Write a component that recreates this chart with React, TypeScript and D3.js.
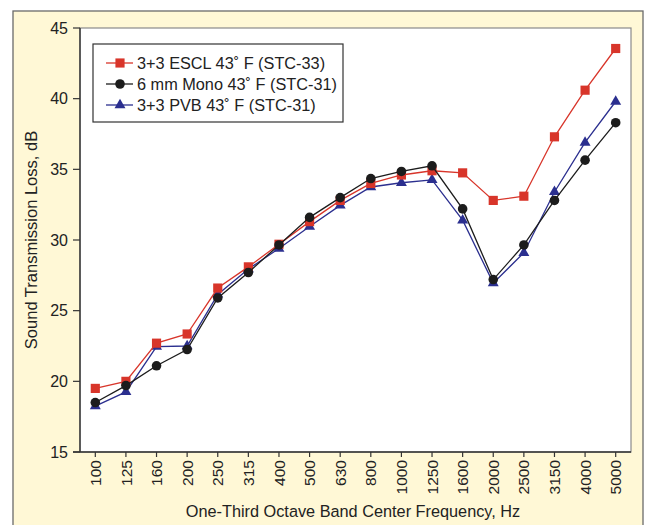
import React from "react";
import * as d3 from "d3";

// one-third octave band centers (Hz)
const freqs = ["100", "125", "160", "200", "250", "315", "400", "500", "630", "800", "1000", "1250", "1600", "2000", "2500", "3150", "4000", "5000"];

// sound transmission loss, dB
const escl = [19.5, 20.0, 22.7, 23.35, 26.6, 28.1, 29.7, 31.3, 32.8, 34.0, 34.6, 34.9, 34.75, 32.8, 33.1, 37.3, 40.6, 43.55];
const mono = [18.5, 19.7, 21.1, 22.25, 25.9, 27.7, 29.65, 31.6, 33.0, 34.35, 34.85, 35.25, 32.2, 27.2, 29.65, 32.8, 35.65, 38.3];
const pvb = [18.25, 19.25, 22.45, 22.5, 26.15, 27.95, 29.4, 30.95, 32.45, 33.75, 34.05, 34.25, 31.4, 26.95, 29.1, 33.4, 36.9, 39.8];

const yTicks = [15, 20, 25, 30, 35, 40, 45];

const series = [
  { name: "3+3 ESCL 43˚ F (STC-33)", values: escl, color: "#d8352a", shape: d3.symbolSquare, size: 84 },
  { name: "6 mm Mono 43˚ F (STC-31)", values: mono, color: "#1c1c1c", shape: d3.symbolCircle, size: 72 },
  { name: "3+3 PVB 43˚ F (STC-31)", values: pvb, color: "#2b2f8f", shape: d3.symbolTriangle, size: 52 },
];

const FONT = "'Liberation Sans', Arial, Helvetica, sans-serif";

export default function App() {
  const width = 646;
  const height = 525;
  const plot = { left: 80, right: 631, top: 28, bottom: 452 };

  const x = d3.scaleBand().domain(freqs).range([plot.left, plot.right]);
  const cx = (f: string) => (x(f) as number) + x.bandwidth() / 2;
  const y = d3.scaleLinear().domain([15, 45]).range([plot.bottom, plot.top]);

  const line = d3
    .line<number>()
    .x((_, i) => cx(freqs[i]))
    .y(d => y(d));

  // draw order: blue under, red, black on top
  const drawOrder = [series[2], series[0], series[1]];

  return (
    <svg width={width} height={height} style={{ position: "absolute", left: 0, top: 0 }} fontFamily={FONT}>
      {/* outer cream panel */}
      <rect x={13} y={11} width={630} height={530} fill="#fff8d6" stroke="#6a6a6a" strokeWidth={1.3} />

      {/* plot area */}
      <rect x={plot.left} y={plot.top} width={plot.right - plot.left} height={plot.bottom - plot.top} fill="#ffffff" stroke="#8a8a8a" strokeWidth={1.2} />
      <line x1={plot.left} x2={plot.left} y1={plot.top} y2={plot.bottom} stroke="#333" strokeWidth={1.4} />
      <line x1={plot.left - 7} x2={plot.right} y1={plot.bottom} y2={plot.bottom} stroke="#333" strokeWidth={1.4} />

      {/* y axis ticks */}
      {yTicks.map(t => (
        <g key={t}>
          <line x1={plot.left - 7} x2={plot.left} y1={y(t)} y2={y(t)} stroke="#333" strokeWidth={1.2} />
          <text x={68} y={y(t)} dy="0.36em" textAnchor="end" fontSize={16} fill="#222">{t}</text>
        </g>
      ))}

      {/* x axis ticks */}
      {freqs.map(f => (
        <g key={f}>
          <line x1={cx(f)} x2={cx(f)} y1={plot.bottom} y2={plot.bottom + 5} stroke="#333" strokeWidth={1.2} />
          <text transform={`translate(${cx(f)},${plot.bottom + 8}) rotate(-90)`} dy="0.36em" textAnchor="end" fontSize={15.5} fill="#222">{f}</text>
        </g>
      ))}

      {/* axis titles */}
      <text x={353} y={517} textAnchor="middle" fontSize={16.3} fill="#222">One-Third Octave Band Center Frequency, Hz</text>
      <text transform={`translate(37,${(plot.top + plot.bottom) / 2}) rotate(-90)`} textAnchor="middle" fontSize={16.5} fill="#222">Sound Transmission Loss, dB</text>

      {/* series */}
      {drawOrder.map(s => (
        <g key={s.name}>
          <path d={line(s.values) || ""} fill="none" stroke={s.color} strokeWidth={1.3} />
          {s.values.map((v, i) => (
            <path key={i} transform={`translate(${cx(freqs[i])},${y(v)})`} d={d3.symbol(s.shape, s.size)() || ""} fill={s.color} />
          ))}
        </g>
      ))}

      {/* legend */}
      <rect x={93} y={44} width={250} height={78} fill="#ffffff" stroke="#333" strokeWidth={1.2} />
      {series.map((s, i) => {
        const ly = 63 + i * 21;
        return (
          <g key={s.name}>
            <line x1={106} x2={133} y1={ly} y2={ly} stroke={s.color} strokeWidth={1.3} />
            <path transform={`translate(120,${ly})`} d={d3.symbol(s.shape, s.size)() || ""} fill={s.color} />
            <text x={137} y={ly} dy="0.36em" fontSize={16.3} fill="#222">{s.name}</text>
          </g>
        );
      })}
    </svg>
  );
}
